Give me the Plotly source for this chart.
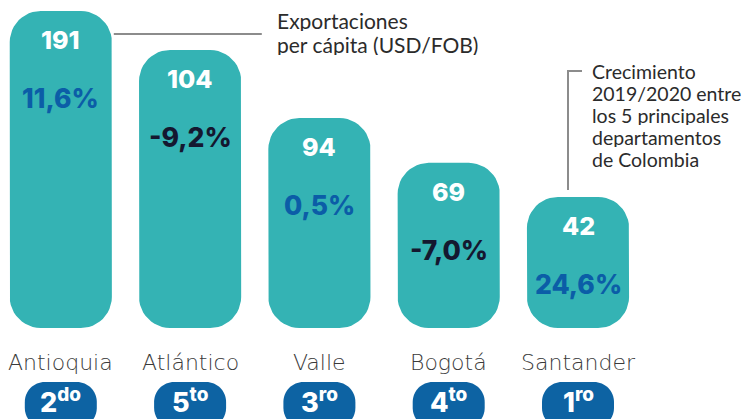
import math
import plotly.graph_objects as go

# ---------------- data ----------------
categories = ["Antioquia", "Atlántico", "Valle", "Bogotá", "Santander"]
export_per_capita = [191, 104, 94, 69, 42]          # USD/FOB per cápita
growth_pct = [11.6, -9.2, 0.5, -7.0, 24.6]          # crecimiento 2019/2020 (%)
rank = [2, 5, 3, 4, 1]
rank_suffix = ["do", "to", "ro", "to", "ro"]
# bar heights as drawn in the infographic (illustrative, not to scale)
bar_heights = [191, 167.5, 126.5, 99.5, 79]

# ---------------- style ----------------
TEAL = "#34B3B4"
BLUE_TXT = "#0B5DA7"
NAVY_TXT = "#141830"
BADGE = "#0D63A3"
GRAY_LINE = "#8C8C8C"
TXT = "#2B2B2B"
NUM_FONT = "Inter"
LBL_FONT = "DejaVu Sans"
NOTE_FONT = "Lato"

W, H = 749, 419
X_PX = 129.3          # pixels per category step
PX = 317 / 191        # pixels per unit on y
BAR_HALF = 0.395      # half bar width, category units
R_PX = 31             # corner radius in pixels
x = list(range(len(categories)))

fig = go.Figure()

# rounded bars built from the bar heights (data coordinates)
rx, ry = R_PX / X_PX, R_PX / PX
bx, by = [], []
for xc, h in zip(x, bar_heights):
    corners = [(xc + BAR_HALF - rx, ry, -90, 0), (xc + BAR_HALF - rx, h - ry, 0, 90),
               (xc - BAR_HALF + rx, h - ry, 90, 180), (xc - BAR_HALF + rx, ry, 180, 270)]
    first = len(bx)
    for cx, cy, a0, a1 in corners:
        for k in range(13):
            a = math.radians(a0 + (a1 - a0) * k / 12)
            bx.append(cx + rx * math.cos(a))
            by.append(cy + ry * math.sin(a))
    bx.append(bx[first]); by.append(by[first])
    bx.append(None); by.append(None)

fig.add_trace(go.Scatter(x=bx, y=by, mode="lines", fill="toself", fillcolor=TEAL,
                         line=dict(width=0, color=TEAL), hoverinfo="skip", showlegend=False))


def rrect(x0, y0, x1, y1, r):
    k = 0.5523 * r
    return (f"M {x0+r},{y1} L {x1-r},{y1} C {x1-r+k},{y1} {x1},{y1-r+k} {x1},{y1-r} "
            f"L {x1},{y0+r} C {x1},{y0+r-k} {x1-r+k},{y0} {x1-r},{y0} "
            f"L {x0+r},{y0} C {x0+r-k},{y0} {x0},{y0+r-k} {x0},{y0+r} "
            f"L {x0},{y1-r} C {x0},{y1-r+k} {x0+r-k},{y1} {x0+r},{y1} Z")


shapes = []
annotations = []
for i, cat in enumerate(categories):
    h = bar_heights[i]
    annotations.append(dict(x=i, y=h, yshift=-29, text=str(export_per_capita[i]),
                            showarrow=False, font=dict(family=NUM_FONT, size=25, color="white", weight=800)))
    g = growth_pct[i]
    gtxt = f"{g:.1f}".replace(".", ",") + "%"
    annotations.append(dict(x=i, y=h, yshift=-87, text=gtxt, showarrow=False,
                            font=dict(family=NUM_FONT, size=26.5, color=BLUE_TXT if g > 0 else NAVY_TXT, weight=800)))
    annotations.append(dict(x=i, y=0, yshift=-34, text=cat, showarrow=False,
                            font=dict(family=LBL_FONT, size=22, color="#3A3A3A", weight=300)))
    shapes.append(dict(type="path", xref="x", yref="y", xsizemode="pixel", ysizemode="pixel",
                       xanchor=i, yanchor=0, path=rrect(-36, -100, 36, -54, 20),
                       fillcolor=BADGE, line_width=0, layer="above"))
    annotations.append(dict(x=i, y=0, yshift=-73, text=f"{rank[i]}<sup>{rank_suffix[i]}</sup>",
                            showarrow=False, font=dict(family=NUM_FONT, size=27, color="white", weight=800)))

# leader line to export note
shapes.append(dict(type="line", xref="x", yref="y", xsizemode="pixel", ysizemode="pixel",
                   xanchor=0, yanchor=bar_heights[0], x0=53, x1=201, y0=-23, y1=-23,
                   line=dict(color=GRAY_LINE, width=2)))
# leader line to growth note
shapes.append(dict(type="path", xref="x", yref="y", xsizemode="pixel", ysizemode="pixel",
                   xanchor=4, yanchor=bar_heights[4], path="M -10,7 L -10,126 L 4,126",
                   fillcolor="rgba(0,0,0,0)", line=dict(color=GRAY_LINE, width=2)))

for j, line in enumerate(["Exportaciones", "per cápita (USD/FOB)"]):
    annotations.append(dict(x=0, y=bar_heights[0], xshift=214, yshift=-9 - 24 * j, xanchor="left",
                            height=22, text=line, showarrow=False,
                            font=dict(family=NOTE_FONT, size=21, color=TXT)))

for j, line in enumerate(["Crecimiento", "2019/2020 entre", "los 5 principales", "departamentos", "de Colombia"]):
    annotations.append(dict(x=4, y=bar_heights[4], xshift=12, yshift=125 - 22 * j, xanchor="left",
                            height=19, text=line, showarrow=False,
                            font=dict(family=NOTE_FONT, size=19.5, color=TXT)))

fig.update_layout(
    width=W, height=H, margin=dict(l=0, r=0, t=0, b=0),
    paper_bgcolor="white", plot_bgcolor="white",
    showlegend=False,
    xaxis=dict(range=[-60.8 / X_PX, (W - 60.8) / X_PX], visible=False, fixedrange=True),
    yaxis=dict(range=[-91 / PX, 328 / PX], visible=False, fixedrange=True),
    shapes=shapes, annotations=annotations,
)

fig.write_html("out.html", config={"displayModeBar": False},
               post_script="document.body.style.margin='0';document.body.style.overflow='hidden';")
